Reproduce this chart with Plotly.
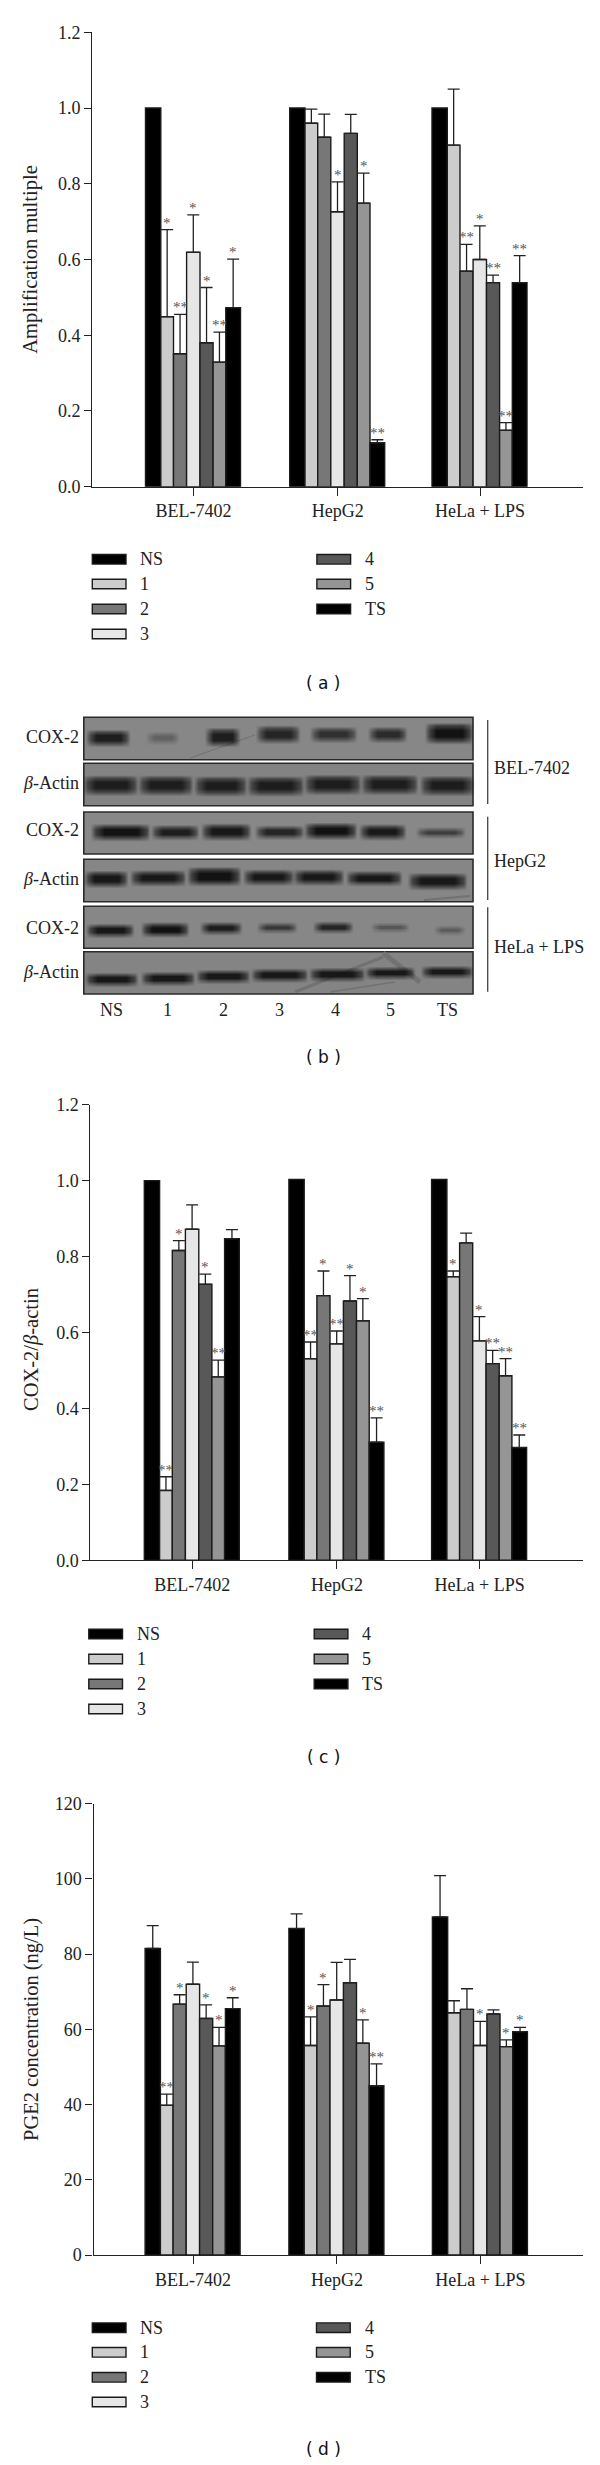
import plotly.graph_objects as go

# ---------- data ----------
groups = ["BEL-7402", "HepG2", "HeLa + LPS"]
series = ["NS", "1", "2", "3", "4", "5", "TS"]
colors = ["#000000", "#cccccc", "#777777", "#e6e6e6", "#585858", "#959595", "#000000"]

# rows = series, columns = groups
a_vals = [[1.0, 1.0, 1.0], [0.449, 0.96, 0.902], [0.351, 0.923, 0.569], [0.619, 0.726, 0.6],
          [0.38, 0.933, 0.539], [0.329, 0.749, 0.149], [0.473, 0.116, 0.539]]
a_tops = [[None, None, None], [0.679, 0.997, 1.05], [0.455, 0.984, 0.64], [0.718, 0.805, 0.689],
          [0.526, 0.983, 0.559], [0.408, 0.828, 0.169], [0.601, 0.124, 0.61]]
a_star = [["", "", ""], ["*", "", ""], ["**", "", "**"], ["*", "*", "*"],
          ["*", "", "**"], ["**", "*", "**"], ["*", "**", "**"]]

c_vals = [[1.0, 1.003, 1.003], [0.184, 0.531, 0.747], [0.816, 0.697, 0.836], [0.872, 0.57, 0.578],
          [0.727, 0.683, 0.518], [0.483, 0.631, 0.486], [0.847, 0.311, 0.297]]
c_tops = [[None, None, None], [0.22, 0.575, 0.762], [0.842, 0.762, 0.862], [0.936, 0.604, 0.642],
          [0.754, 0.75, 0.553], [0.527, 0.689, 0.531], [0.871, 0.375, 0.33]]
c_star = [["", "", ""], ["**", "**", "*"], ["*", "*", ""], ["", "**", "*"],
          ["*", "*", "**"], ["**", "*", "**"], ["", "**", "**"]]

d_vals = [[81.5, 86.8, 89.9], [39.8, 55.7, 64.4], [66.7, 66.2, 65.3], [72.0, 67.8, 55.7],
          [62.9, 72.4, 64.1], [55.6, 56.3, 55.4], [65.5, 45.0, 59.4]]
d_tops = [[87.6, 90.7, 100.9], [42.8, 63.3, 67.6], [69.2, 71.9, 70.8], [77.9, 77.8, 62.1],
          [66.5, 78.6, 65.2], [60.5, 62.5, 57.2], [68.4, 50.8, 60.5]]
d_star = [["", "", ""], ["**", "*", ""], ["*", "*", ""], ["", "", "*"],
          ["*", "", ""], ["*", "*", "*"], ["*", "**", "*"]]

lane_labels = ["NS", "1", "2", "3", "4", "5", "TS"]

# western blot bands: left, right, centre y, half height, darkness
blot_bands = [
    [(88, 128, 737.7, 6, .85), (148, 177, 737.7, 4, .3), (207, 238, 736.7, 7, .85), (258, 298, 734, 6.5, .8),
     (312, 355, 734.3, 5.5, .7), (370, 405, 734.3, 5.5, .75), (427, 471, 733, 8, .95)],
    [(85, 136, 785, 7.5, .85), (140, 191, 785, 7.5, .85), (196, 245, 785.7, 7.5, .85), (249, 302, 785.7, 7.5, .85),
     (306, 359, 784.3, 7.5, .85), (363, 416, 784.3, 7.5, .85), (422, 472, 785.3, 7.5, .85)],
    [(93, 148, 832, 6, .95), (153, 197, 832, 5, .85), (203, 249, 831.5, 6, .9), (257, 302, 832, 4.5, .8),
     (306, 355, 830.7, 6, .95), (361, 404, 831.7, 5.5, .9), (418, 463, 832.3, 3, .6)],
    [(86, 126, 878.7, 6, .9), (132, 184, 877.7, 5.5, .9), (189, 239, 876, 7, .95), (245, 292, 877, 5.5, .9),
     (295, 342, 877, 5.5, .9), (348, 400, 878, 5, .9), (410, 465, 881, 6, .9)],
    [(88, 132, 930.3, 4.5, .9), (143, 187, 929.3, 5, .95), (202, 240, 928, 4, .85), (259, 295, 927.3, 3, .65),
     (315, 351, 927, 3.5, .8), (373, 407, 927.3, 2.5, .4), (436, 463, 930, 2.5, .35)],
    [(87, 136, 979.3, 4.5, .9), (143, 193, 978.3, 4.5, .9), (198, 248, 976.3, 4.5, .9), (253, 306, 975, 4.5, .9),
     (311, 363, 974.3, 4.5, .9), (367, 413, 972.7, 4, .9), (423, 471, 971.7, 4, .9)],
]

# ---------- layout constants (page pixels) ----------
W, H = 600, 2465
FONT = "Liberation Serif"
INK = "#222222"
edges = [-48, -32.7, -20, -6.9, 6.5, 19.6, 32.3, 47]

panels = [
    dict(vals=a_vals, tops=a_tops, star=a_star, ax="", left=92.3, right=583, top=32.3, bottom=486.7,
         ticks=[193.5, 337.7, 480], ymax=1.2, step=0.2, fmt="{:.1f}",
         title="Amplification multiple", title_y=259.7,
         leg_x=(92.3, 316.9), leg_y=(559.3, 584, 609, 634)),
    dict(vals=c_vals, tops=c_tops, star=c_star, ax="2", left=90.4, right=583, top=1104.7, bottom=1560.3,
         ticks=[192.3, 336.9, 479.6], ymax=1.2, step=0.2, fmt="{:.1f}",
         title="COX-2/<i>β</i>-actin", title_y=1350,
         leg_x=(88.8, 314.2), leg_y=(1634, 1659, 1684, 1709)),
    dict(vals=d_vals, tops=d_tops, star=d_star, ax="3", left=93.5, right=583, top=1803.7, bottom=2255,
         ticks=[193.1, 336.9, 480.4], ymax=120, step=20, fmt="{:.0f}",
         title="PGE2 concentration (ng/L)", title_y=2030,
         leg_x=(92.3, 316.5), leg_y=(2327.7, 2352.3, 2377.3, 2402)),
]

captions = [("( a )", 682.5), ("( b )", 1057), ("( c )", 1756.7), ("( d )", 2449)]
cap_x = 323

fig = go.Figure()
shapes, notes = [], []


def page_text(x, y, text, size=18, anchor="left", color=INK, family=FONT, angle=0):
    notes.append(dict(x=x, y=y, xref="x4", yref="y4", text=text, showarrow=False, textangle=angle,
                      xanchor=anchor, yanchor="middle", font=dict(family=family, size=size, color=color)))


def page_rect(x0, y0, x1, y1, fill, line=None, lw=1.5, layer="below"):
    shapes.append(dict(type="rect", xref="x4", yref="y4", x0=x0, x1=x1, y0=y0, y1=y1, fillcolor=fill,
                       layer=layer, line=dict(color=line or fill, width=lw)))


for p in panels:
    xa, ya = "x" + p["ax"], "y" + p["ax"]
    n = int(round(p["ymax"] / p["step"]))
    tv = [p["step"] * i for i in range(n + 1)]
    fig.update_layout({
        "xaxis" + p["ax"]: dict(domain=[p["left"] / W, p["right"] / W], range=[p["left"], p["right"]],
                                anchor=ya, tickvals=p["ticks"], ticktext=groups, ticks="outside", ticklen=8,
                                tickwidth=1.2, tickcolor=INK, showline=True, linecolor=INK, linewidth=1.3,
                                showgrid=False, zeroline=False, fixedrange=True, automargin=False,
                                tickfont=dict(family=FONT, size=18, color=INK)),
        "yaxis" + p["ax"]: dict(domain=[1 - p["bottom"] / H, 1 - p["top"] / H], range=[0, p["ymax"]],
                                anchor=xa, tickvals=tv, ticktext=[p["fmt"].format(v) for v in tv],
                                ticks="outside", ticklen=7, tickwidth=1.2, tickcolor=INK, showline=True,
                                linecolor=INK, linewidth=1.3, showgrid=False, zeroline=False, fixedrange=True,
                                automargin=False, tickfont=dict(family=FONT, size=18, color=INK)),
    })
    for s, name in enumerate(series):
        vals, tops = p["vals"][s], p["tops"][s]
        errs = [None if t is None else t - v for v, t in zip(vals, tops)]
        kw = {}
        if any(e is not None for e in errs):
            kw["error_y"] = dict(type="data", array=[e or 0 for e in errs], arrayminus=[0, 0, 0], symmetric=False,
                                 color=INK, thickness=1.3, width=6)
        fig.add_trace(go.Bar(x=p["ticks"], y=vals, name=name, xaxis=xa, yaxis=ya, showlegend=False,
                             offset=edges[s], width=edges[s + 1] - edges[s], marker_color=colors[s],
                             marker_line=dict(color="#1a1a1a", width=1.4), hoverinfo="skip", **kw))
        for g in range(3):
            if p["star"][s][g]:
                notes.append(dict(x=p["ticks"][g] + (edges[s] + edges[s + 1]) / 2, y=tops[g], xref=xa, yref=ya,
                                  text=p["star"][s][g], showarrow=False, yanchor="bottom", yshift=-3,
                                  font=dict(family=FONT, size=15, color="#555555")))
    page_text(31, p["title_y"], p["title"], size=20.5, angle=-90, anchor="center")
    # legend
    for i, name in enumerate(series):
        col = 0 if i < 4 else 1
        row = i if i < 4 else i - 4
        x0 = p["leg_x"][col]
        yc = p["leg_y"][row]
        page_rect(x0, yc - 4.8, x0 + 33.7, yc + 4.8, colors[i], "#1a1a1a", 1.4)
        page_text(x0 + 46, yc, name)

for text, y in captions:
    page_text(cap_x, y, text, size=17, anchor="center", family="DejaVu Sans", color="#111111")

# ---------- western blots ----------
strips = [(717.3, 759.7), (763.3, 805.7), (812, 854), (859.3, 901.7), (906.3, 948.3), (951.7, 994)]
strip_x = (83.8, 473)
strip_fill = ["#878787", "#838383", "#888888", "#868686", "#878787", "#848484"]
left_labels = [("COX-2", 736.7), ("<i>β</i>-Actin", 783), ("COX-2", 829.7), ("<i>β</i>-Actin", 879),
               ("COX-2", 928.3), ("<i>β</i>-Actin", 971.7)]
lane_x = [111.5, 167.3, 223, 279.6, 335.4, 390.8, 447.3]
side = [("BEL-7402", 720, 804, 767.7), ("HepG2", 816.7, 900, 860.7), ("HeLa + LPS", 907.3, 991.7, 947.3)]
scratches = [(295, 992, 383, 957, 3), (383, 953, 420, 982, 5), (330, 992, 395, 982, 1.5),
             (190, 758, 255, 735, 1), (424, 900, 470, 896, 2)]

xprof = [0, .6, 1, 1, .6, 0]
yprof = [0, .6, 1, 1, .6, 0]
dark_scale = [[0, "rgba(12,12,12,0)"], [1, "rgba(12,12,12,1)"]]

for (y0, y1), fill in zip(strips, strip_fill):
    page_rect(strip_x[0], y0, strip_x[1], y1, fill, "#2b2b2b", 1.6)
for x0, y0, x1, y1, lw in scratches:
    shapes.append(dict(type="line", xref="x4", yref="y4", x0=x0, x1=x1, y0=y0, y1=y1, layer="below",
                       line=dict(color="#727272", width=lw)))

for row in blot_bands:
    for x0, x1, yc, h, d in row:
        w = x1 - x0
        xs = [x0 - 2.5, x0 + 2, x0 + w * .2, x1 - w * .2, x1 - 2, x1 + 2.5]
        ys = [yc - h - 3, yc - h + .5, yc - h * .4, yc + h * .4, yc + h - .5, yc + h + 3]
        fig.add_trace(go.Heatmap(x=xs, y=ys, z=[[d * a * b for a in xprof] for b in yprof], xaxis="x4", yaxis="y4",
                                 colorscale=dark_scale, zmin=0, zmax=1, showscale=False, zsmooth="best",
                                 hoverinfo="skip"))

for text, y in left_labels:
    page_text(80.8, y, text, anchor="right")
for x, t in zip(lane_x, lane_labels):
    page_text(x, 1010, t, anchor="center")
for t, y0, y1, ty in side:
    shapes.append(dict(type="line", xref="x4", yref="y4", x0=487.7, x1=487.7, y0=y0, y1=y1,
                       line=dict(color="#444444", width=1.3)))
    page_text(491.5, ty, t)

fig.update_layout(
    width=W, height=H, margin=dict(l=0, r=0, t=0, b=0), autosize=False, barmode="overlay", showlegend=False,
    paper_bgcolor="white", plot_bgcolor="rgba(0,0,0,0)", shapes=shapes, annotations=notes,
    xaxis4=dict(domain=[0, 1], range=[0, W], visible=False, fixedrange=True, anchor="y4", automargin=False),
    yaxis4=dict(domain=[0, 1], range=[H, 0], visible=False, fixedrange=True, anchor="x4", automargin=False),
)
fig.write_html("out.html", post_script="document.body.style.margin='0';", config=dict(displayModeBar=False))
